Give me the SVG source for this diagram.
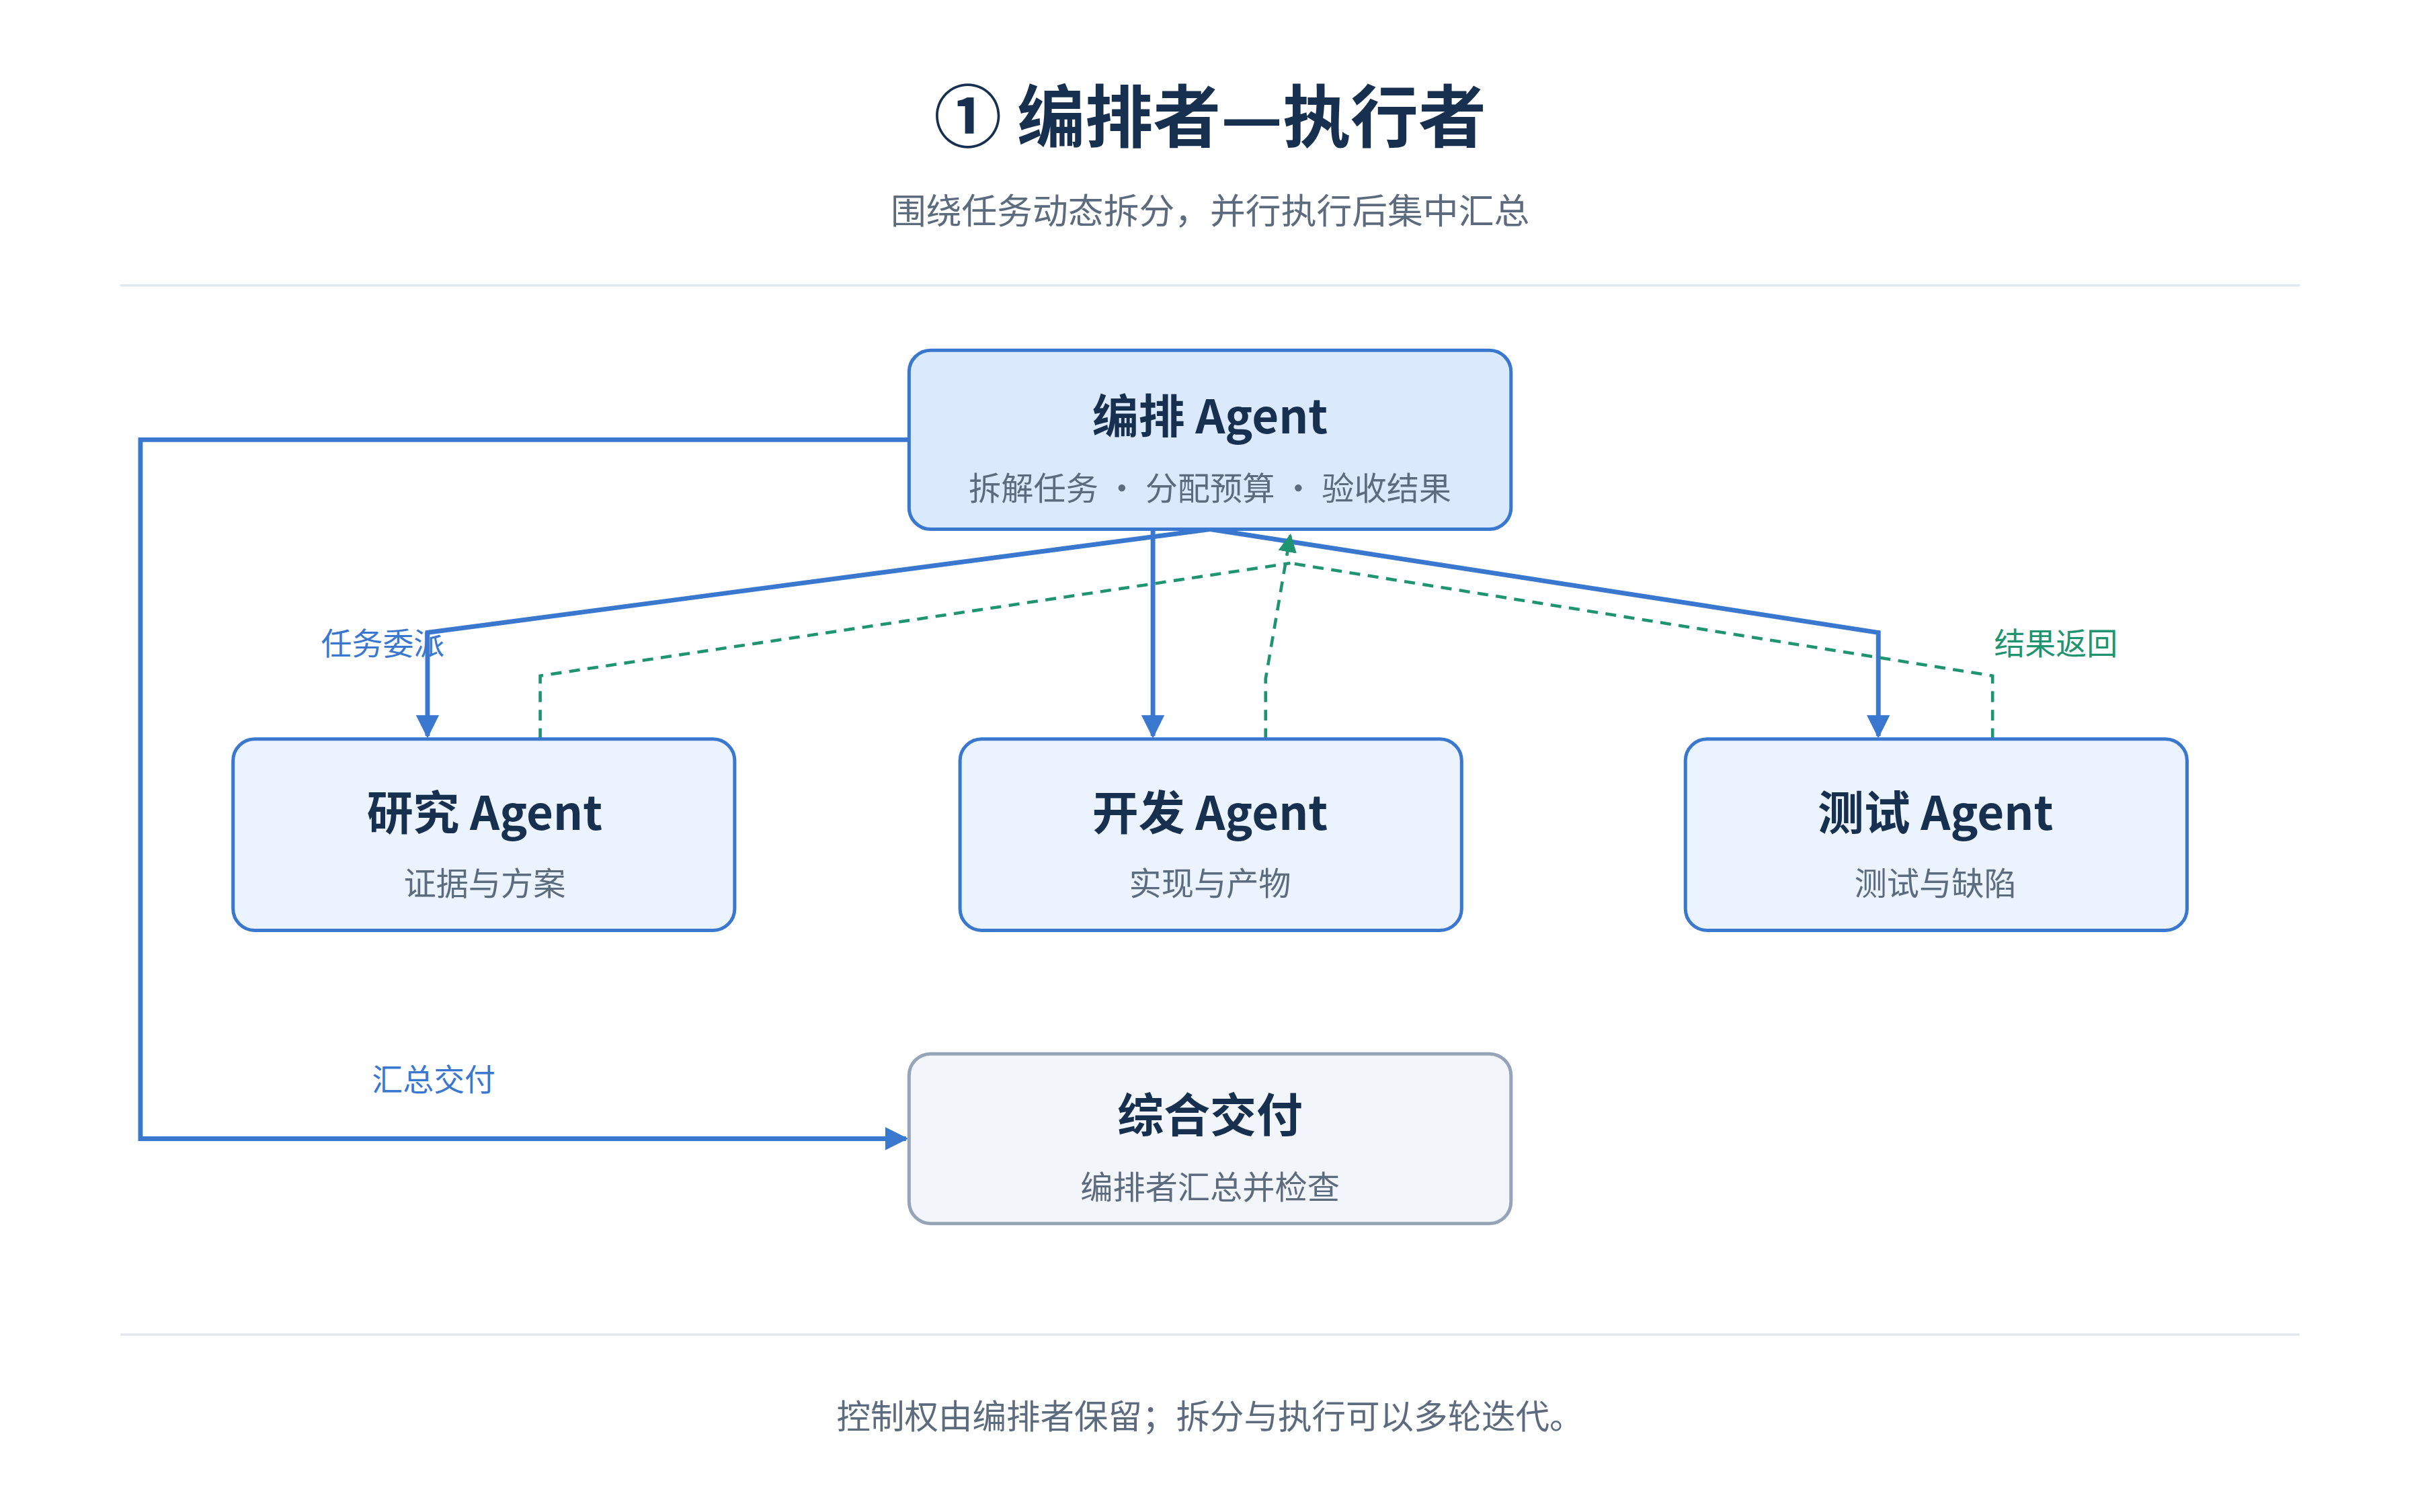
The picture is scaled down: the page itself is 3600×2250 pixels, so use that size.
<svg xmlns="http://www.w3.org/2000/svg" width="3600" height="2250" viewBox="0 0 3600 2250">
<defs>
<style>
text{font-family:"Noto Sans CJK SC","Noto Sans",sans-serif;text-anchor:middle}
.t{font-size:30px;font-weight:700;fill:#17304f}
.s{font-size:21px;fill:#5d6b7e}
.box{fill:#eaf3fe;stroke:#3a78d0;stroke-width:2.2}
.c{fill:none;stroke:#3a78d0;stroke-width:3}
.d{fill:none;stroke:#1f9470;stroke-width:2;stroke-dasharray:7 5}
</style>
<marker id="ab" viewBox="0 0 10 10" refX="9" refY="5" markerWidth="5" markerHeight="5" orient="auto"><path d="M0,0L10,5L0,10z" fill="#3a78d0"/></marker>
<marker id="ag" viewBox="0 0 10 10" refX="9" refY="5" markerWidth="6" markerHeight="6" orient="auto"><path d="M0,0L10,5L0,10z" fill="#1f9470"/></marker>
</defs>
<rect width="3600" height="2250" fill="#fff"/>
<g transform="scale(2.296)">
<text x="784" y="92" style="font-size:44px;font-weight:700;fill:#17304f">① 编排者—执行者</text>
<text x="784" y="145" style="font-size:23px;fill:#5d6b7e">围绕任务动态拆分，并行执行后集中汇总</text>
<line x1="78" y1="185" x2="1490" y2="185" stroke="#e3e8ef" stroke-width="1.5"/>
<line x1="78" y1="865" x2="1490" y2="865" stroke="#e3e8ef" stroke-width="1.5"/>
<g id="connectors">
<path class="c" d="M589,285H91V738H587" marker-end="url(#ab)"/>
<path class="c" d="M784,343L277,410V477" marker-end="url(#ab)"/>
<path class="c" d="M747,343V477" marker-end="url(#ab)"/>
<path class="c" d="M784,343L1217,410V477" marker-end="url(#ab)"/>
<path class="d" d="M350,479V438L836,365"/>
<path class="d" d="M1291,479V438L836,365"/>
<path class="d" d="M820,479V440L836,347" marker-end="url(#ag)"/>
<text x="248" y="424" style="font-size:20px;fill:#3a78d0">任务委派</text>
<text x="1332" y="424" style="font-size:20px;fill:#1f9470">结果返回</text>
<text x="281" y="707" style="font-size:20px;fill:#3a78d0">汇总交付</text>
</g>
<g id="orchestrator"><rect class="box" x="589" y="227" width="390" height="116" rx="14" style="fill:#dbe9fc"/>
<text class="t" x="784" y="281">编排 Agent</text><text class="s" x="784" y="324">拆解任务 · 分配预算 · 验收结果</text></g>
<g id="research"><rect class="box" x="151" y="479" width="325" height="124" rx="14"/>
<text class="t" x="314" y="538">研究 Agent</text><text class="s" x="314" y="580">证据与方案</text></g>
<g id="dev"><rect class="box" x="622" y="479" width="325" height="124" rx="14"/>
<text class="t" x="784" y="538">开发 Agent</text><text class="s" x="784" y="580">实现与产物</text></g>
<g id="test"><rect class="box" x="1092" y="479" width="325" height="124" rx="14"/>
<text class="t" x="1254" y="538">测试 Agent</text><text class="s" x="1254" y="580">测试与缺陷</text></g>
<g id="deliver"><rect x="589" y="683" width="390" height="110" rx="14" fill="#f2f5f9" stroke="#96a4b8" stroke-width="2.2"/>
<text class="t" x="784" y="734">综合交付</text><text class="s" x="784" y="777">编排者汇总并检查</text></g>
<text x="784" y="926" style="font-size:22px;fill:#5d6b7e">控制权由编排者保留；拆分与执行可以多轮迭代。</text>
</g>
</svg>
